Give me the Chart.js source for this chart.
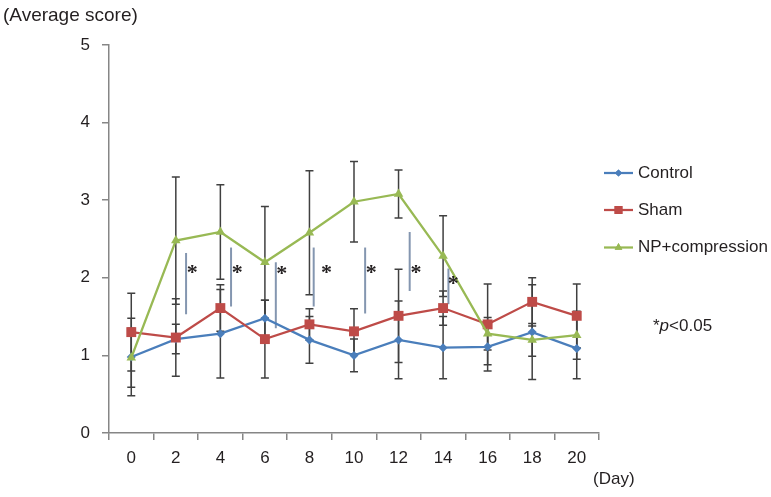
<!DOCTYPE html>
<html>
<head>
<meta charset="utf-8">
<script src="https://cdn.jsdelivr.net/npm/chart.js@4.4.1/dist/chart.umd.min.js"></script>
<style>
html,body{margin:0;padding:0;background:#fff;}
canvas{display:block;}
</style>
</head>
<body>
<canvas id="c" width="771" height="497"></canvas>
<script>
// ---- data ----
const days = [0, 2, 4, 6, 8, 10, 12, 14, 16, 18, 20];
const yTicks = [0, 1, 2, 3, 4, 5];
const seriesNames = ['Control', 'Sham', 'NP+compression'];
const control    = [0.98, 1.21, 1.28, 1.48, 1.20, 1.00, 1.20, 1.10, 1.11, 1.30, 1.09];
const controlErr = [0.50, 0.19, 0.57, 0.23, 0.30, 0.21, 0.50, 0.40, 0.31, 0.61, 0.39];
const sham       = [1.30, 1.23, 1.61, 1.21, 1.40, 1.31, 1.51, 1.61, 1.40, 1.69, 1.51];
const shamErr    = [0.50, 0.50, 0.30, 0.50, 0.20, 0.29, 0.60, 0.22, 0.52, 0.31, 0.41];
const npComp     = [0.97, 2.48, 2.59, 2.20, 2.58, 2.98, 3.08, 2.28, 1.28, 1.20, 1.26];
const npCompErr  = [0.38, 0.82, 0.61, 0.72, 0.80, 0.52, 0.31, 0.52, 0.21, 0.21, 0.31];
// significance markers (day position, top / bottom of bracket line, asterisk position)
const sigDay    = [2.46, 4.48, 6.49, 8.19, 10.50, 12.50, 14.24];
const sigTop    = [2.32, 2.39, 2.20, 2.39, 2.39, 2.59, 2.12];
const sigBottom = [1.53, 1.63, 1.35, 1.63, 1.54, 1.83, 1.66];
const starDay   = [2.74, 4.76, 6.76, 8.77, 10.77, 12.78, 14.46];
const starVal   = [2.11, 2.11, 2.10, 2.11, 2.11, 2.11, 1.97];

const COLORS = ['#4a7ebb', '#be4b48', '#98b954'];
const POINTS = ['rectRot', 'rect', 'triangle'];
const RADII = [4.5, 7, 5.5];
const values = [control, sham, npComp];
const errors = [controlErr, shamErr, npCompErr];

const FONT = '"Liberation Sans", Arial, sans-serif';
const TEXT = '#231f20';
const AXIS = '#868686';

const datasets = values.map((v, k) => ({
  label: seriesNames[k],
  data: days.map((d, i) => ({x: d, y: v[i]})),
  borderColor: COLORS[k],
  backgroundColor: COLORS[k],
  borderWidth: 2.25,
  pointStyle: POINTS[k],
  pointRadius: RADII[k],
  pointBackgroundColor: COLORS[k],
  pointBorderColor: COLORS[k],
  pointBorderWidth: 0,
  tension: 0,
  order: 3 - k
}));

const extras = {
  id: 'extras',
  beforeDatasetsDraw(chart) {
    const ctx = chart.ctx, xs = chart.scales.x, ys = chart.scales.y;
    ctx.save();
    // error bars
    ctx.strokeStyle = '#404040';
    ctx.lineWidth = 1.5;
    errors.forEach((err, k) => {
      days.forEach((d, i) => {
        const x = xs.getPixelForValue(d);
        const yt = ys.getPixelForValue(values[k][i] + err[i]);
        const yb = ys.getPixelForValue(values[k][i] - err[i]);
        ctx.beginPath();
        ctx.moveTo(x, yt); ctx.lineTo(x, yb);
        ctx.moveTo(x - 4, yt); ctx.lineTo(x + 4, yt);
        ctx.moveTo(x - 4, yb); ctx.lineTo(x + 4, yb);
        ctx.stroke();
      });
    });
    // significance lines
    ctx.strokeStyle = '#8496b0';
    ctx.lineWidth = 2;
    sigDay.forEach((d, i) => {
      const x = xs.getPixelForValue(d);
      ctx.beginPath();
      ctx.moveTo(x, ys.getPixelForValue(sigTop[i]));
      ctx.lineTo(x, ys.getPixelForValue(sigBottom[i]));
      ctx.stroke();
    });
    ctx.restore();
  },
  afterDraw(chart) {
    const ctx = chart.ctx, xs = chart.scales.x, ys = chart.scales.y;
    ctx.save();
    // asterisks
    ctx.fillStyle = TEXT;
    ctx.font = 'bold 22px "Liberation Serif", serif';
    ctx.textAlign = 'center';
    ctx.textBaseline = 'middle';
    starDay.forEach((d, i) => {
      ctx.fillText('*', xs.getPixelForValue(d), ys.getPixelForValue(starVal[i]) + 4);
    });
    // axis titles
    ctx.textAlign = 'left';
    ctx.font = '19px ' + FONT;
    ctx.fillText('(Average score)', 3, 16);
    ctx.font = '17px ' + FONT;
    ctx.fillText('(Day)', 593, 479);
    // legend
    const ly = [173, 210, 247.5];
    chart.data.datasets.forEach((ds, k) => {
      ctx.strokeStyle = ds.borderColor;
      ctx.lineWidth = 2.25;
      ctx.beginPath();
      ctx.moveTo(604, ly[k]); ctx.lineTo(633, ly[k]);
      ctx.stroke();
      ctx.fillStyle = ds.borderColor;
      Chart.helpers.drawPoint(ctx, {pointStyle: ds.pointStyle, radius: ds.pointRadius * 0.8, rotation: 0, borderWidth: 0}, 618.5, ly[k]);
      ctx.fill();
      ctx.fillStyle = TEXT;
      ctx.font = '17px ' + FONT;
      ctx.fillText(ds.label, 638, ly[k]);
    });
    // p-value note
    let x = 653;
    const yy = 326;
    ctx.font = '17px ' + FONT;
    ctx.fillText('*', x, yy); x += ctx.measureText('*').width;
    ctx.font = 'italic 17px ' + FONT;
    ctx.fillText('p', x, yy); x += ctx.measureText('p').width;
    ctx.font = '17px ' + FONT;
    ctx.fillText('<0.05', x, yy);
    ctx.restore();
  }
};

new Chart(document.getElementById('c'), {
  type: 'line',
  data: {datasets},
  options: {
    responsive: false,
    animation: false,
    devicePixelRatio: 1,
    layout: {padding: {left: 0, right: 172, top: 45, bottom: 0}},
    plugins: {legend: {display: false}, tooltip: {enabled: false}},
    scales: {
      x: {
        type: 'linear',
        min: -1, max: 21,
        afterFit(s) { s.height = 64; },
        afterBuildTicks(s) { s.ticks = []; for (let v = -1; v <= 21; v++) s.ticks.push({value: v}); },
        ticks: {
          autoSkip: false, maxRotation: 0, padding: 8,
          color: TEXT, font: {family: FONT, size: 17},
          callback: (v) => days.includes(v) ? String(v) : ''
        },
        grid: {
          drawOnChartArea: false, tickLength: 7, lineWidth: 1.5,
          color: (c) => (c.tick && Math.abs(c.tick.value % 2) === 1) ? AXIS : 'rgba(0,0,0,0)'
        },
        border: {display: true, color: AXIS, width: 1.5}
      },
      y: {
        min: 0, max: 5,
        afterFit(s) { s.width = 109; },
        afterBuildTicks(s) { s.ticks = yTicks.map(v => ({value: v})); },
        ticks: {padding: 12, color: TEXT, font: {family: FONT, size: 17}},
        grid: {drawOnChartArea: false, tickLength: 7, lineWidth: 1.5, color: AXIS},
        border: {display: true, color: AXIS, width: 1.5}
      }
    }
  },
  plugins: [extras]
});
</script>
</body>
</html>
